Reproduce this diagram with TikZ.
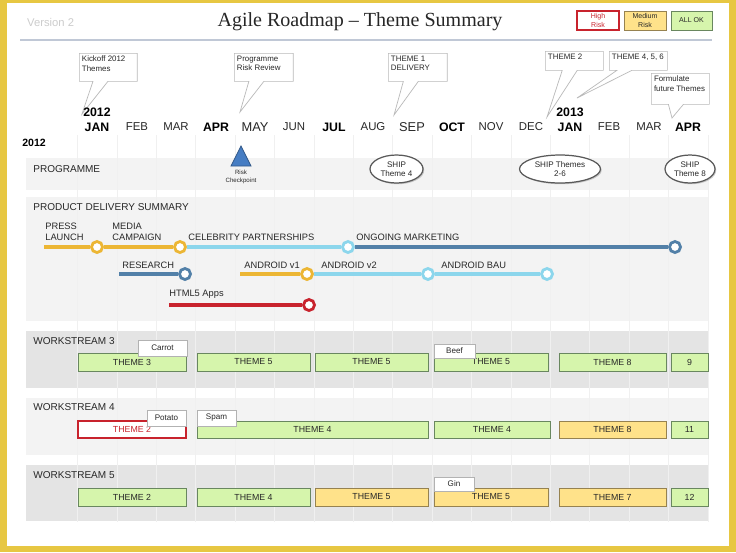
\documentclass[tikz,border=0pt]{standalone}
\usepackage{fontspec}
\setmainfont{Liberation Sans}
\newfontfamily\titlefont{Liberation Serif}
\usetikzlibrary{shapes.geometric, shapes.callouts, shadows, positioning}

\definecolor{frameyellow}{RGB}{231,199,66}
\definecolor{bandlight}{RGB}{243,243,243}
\definecolor{banddark}{RGB}{228,228,228}
\definecolor{okfill}{RGB}{214,245,172}
\definecolor{okdraw}{RGB}{105,135,95}
\definecolor{medfill}{RGB}{255,226,138}
\definecolor{meddraw}{RGB}{150,130,80}
\definecolor{riskred}{RGB}{200,35,45}
\definecolor{goldline}{RGB}{236,182,52}
\definecolor{skyline}{RGB}{140,214,236}
\definecolor{steelline}{RGB}{82,128,168}
\definecolor{chkblue}{RGB}{70,125,195}
\definecolor{textgrey}{RGB}{40,40,40}

\begin{document}
\begin{tikzpicture}[x=0.02cm, y=-0.02cm, text=textgrey]
        \tikzstyle{boxshadow} = [drop shadow={shadow xshift=0.7pt, shadow yshift=-0.7pt, opacity=0.4}]
        \tikzstyle{month} = [font=\fontsize{6.5}{7}\selectfont]
        \tikzstyle{bigmonth} = [font=\fontsize{7.3}{8}\selectfont]
        \tikzstyle{qmonth} = [font=\bfseries\fontsize{7}{8}\selectfont, text=black]
        \tikzstyle{bandlabel} = [anchor=west, inner sep=0pt, font=\fontsize{5.7}{6.5}\selectfont]
        \tikzstyle{linelabel} = [anchor=south west, align=left, inner sep=0pt, font=\fontsize{5.3}{6.2}\selectfont]
        \tikzstyle{note} = [rectangle callout, draw=gray!55, fill=white, anchor=north west, inner sep=0pt, callout pointer width=0.3cm]
        \tikzstyle{notetext} = [anchor=north west, align=left, inner sep=1.5pt, font=\fontsize{4.5}{5.4}\selectfont]
        \tikzstyle{legend} = [rectangle, minimum width=0.84cm, minimum height=0.38cm, inner sep=0pt, align=center, font=\fontsize{4}{4.6}\selectfont, boxshadow]
        \tikzstyle{okbox} = [rectangle, draw=okdraw, fill=okfill, minimum height=0.36cm, inner sep=0pt, font=\fontsize{5}{6}\selectfont, boxshadow]
        \tikzstyle{medbox} = [okbox, draw=meddraw, fill=medfill]
        \tikzstyle{riskbox} = [okbox, draw=riskred, fill=white, text=riskred, line width=0.8pt]
        \tikzstyle{tag} = [rectangle, draw=gray!60, fill=white, minimum height=0.3cm, inner sep=0pt, font=\fontsize{4.6}{5}\selectfont, boxshadow]
        \tikzstyle{ship} = [ellipse, draw=gray!70!black, line width=0.7pt, fill=white, align=center, inner sep=0pt, minimum height=0.56cm, font=\fontsize{4.6}{5.4}\selectfont, boxshadow]
        \tikzstyle{milestone} = [circle, minimum size=0.22cm, inner sep=0pt, line width=1.6pt, fill=white]
        \tikzstyle{track} = [line width=1.8pt]

        \useasboundingbox (0,0) rectangle (736,552);

        % frame, rule and bands
        \fill[frameyellow] (0,0) rectangle (736,552);
        \fill[white] (7,3) rectangle (729,546);
        \draw[line width=1.2pt, color={rgb,255:red,192;green,200;blue,214}] (20,40) -- (712,40);
        \fill[bandlight] (26,158) rectangle (709,190);
        \fill[bandlight] (26,197) rectangle (709,321);
        \fill[banddark] (26,331) rectangle (709,388);
        \fill[bandlight] (26,398) rectangle (709,455);
        \fill[banddark] (26,465) rectangle (709,521);
        \foreach \gx in {0,...,16}
            \draw[white!88!gray, line width=0.4pt] (77.5+39.4*\gx,135) -- (77.5+39.4*\gx,522);

        % header
        \node (ver) [anchor=west, text=gray!40, font=\fontsize{6.4}{7}\selectfont] at (21,22) {Version 2};
        \node (title) [font=\titlefont\fontsize{11.4}{13}\selectfont, text=black!85] at (360,22) {Agile Roadmap – Theme Summary};
        \node (hi) [legend, draw=riskred, line width=0.8pt, fill=white, text=riskred] at (598,20.5) {High\\Risk};
        \node (med) [legend, draw=meddraw, fill=medfill] at (645,20.5) {Medium\\Risk};
        \node (ok) [legend, draw=okdraw, fill=okfill, minimum width=0.82cm] at (691.5,20.5) {ALL OK};

        % callouts
        \coordinate (kickpt) at (82,114);
        \coordinate (riskpt) at (240,112);
        \coordinate (thm1pt) at (394,115);
        \coordinate (thm2pt) at (547,117);
        \coordinate (thm4pt) at (577,98);
        \coordinate (formpt) at (672,118);
        \node (kick) [note, minimum width=1.16cm, minimum height=0.56cm, callout absolute pointer={(kickpt)}] at (79,53) {};
        \node (riskrev) [note, minimum width=1.18cm, minimum height=0.56cm, callout absolute pointer={(riskpt)}] at (234,53) {};
        \node (thm1) [note, minimum width=1.18cm, minimum height=0.56cm, callout absolute pointer={(thm1pt)}] at (388,53) {};
        \node (thm2) [note, minimum width=1.16cm, minimum height=0.38cm, callout absolute pointer={(thm2pt)}] at (545,51) {};
        \node (thm4) [note, minimum width=1.16cm, minimum height=0.38cm, callout absolute pointer={(thm4pt)}] at (609,51) {};
        \node (form) [note, minimum width=1.16cm, minimum height=0.62cm, callout absolute pointer={(formpt)}] at (651,73) {};
        \node (kicktxt) [notetext] at (kick.north west) {Kickoff 2012\\Themes};
        \node (risktxt) [notetext] at (riskrev.north west) {Programme\\Risk Review};
        \node (thm1txt) [notetext] at (thm1.north west) {THEME 1\\DELIVERY};
        \node (thm2txt) [notetext] at (thm2.north west) {THEME 2};
        \node (thm4txt) [notetext] at (thm4.north west) {THEME 4, 5, 6};
        \node (formtxt) [notetext] at (form.north west) {Formulate\\future Themes};

        % months
        \node (y12) [qmonth] at (97,112) {2012};
        \node (y13) [qmonth] at (570,112) {2013};
        \node (jan) [qmonth] at (97,127) {JAN};
        \node (feb) [month] at (137,127) {FEB};
        \node (mar) [month] at (176,127) {MAR};
        \node (apr) [qmonth] at (216,127) {APR};
        \node (may) [bigmonth] at (255,127) {MAY};
        \node (jun) [month] at (294,127) {JUN};
        \node (jul) [qmonth] at (334,127) {JUL};
        \node (aug) [month] at (373,127) {AUG};
        \node (sep) [bigmonth] at (412,127) {SEP};
        \node (oct) [qmonth] at (452,127) {OCT};
        \node (nov) [month] at (491,127) {NOV};
        \node (dec) [month] at (531,127) {DEC};
        \node (jan2) [qmonth] at (570,127) {JAN};
        \node (feb2) [month] at (609,127) {FEB};
        \node (mar2) [month] at (649,127) {MAR};
        \node (apr2) [qmonth] at (688,127) {APR};
        \node (yr) [anchor=west, inner sep=0pt, font=\bfseries\fontsize{6}{7}\selectfont, text=black] at (22,143) {2012};

        % programme
        \node (prog) [bandlabel] at (33,169) {PROGRAMME};
        \filldraw[fill=chkblue, draw=chkblue!70!black, line width=0.5pt] (241,146) -- (251,166) -- (231,166) -- cycle;
        \node (chk) [align=center, inner sep=0pt, font=\fontsize{3.5}{4.6}\selectfont] at (241,176.5) {Risk\\Checkpoint};
        \node (ship4) [ship, minimum width=1.06cm] at (396.5,169) {SHIP\\Theme 4};
        \node (ship26) [ship, minimum width=1.62cm] at (560,169) {SHIP Themes\\2-6};
        \node (ship8) [ship, minimum width=1.0cm] at (690,169) {SHIP\\Theme 8};

        % product delivery summary
        \node (pds) [bandlabel] at (33,207) {PRODUCT DELIVERY SUMMARY};
        \coordinate (pd0) at (44,247);
        \node (pd1) [milestone, draw=goldline] at (97,247) {};
        \node (pd2) [milestone, draw=goldline] at (180,247) {};
        \node (pd3) [milestone, draw=skyline] at (348,247) {};
        \node (pd4) [milestone, draw=steelline] at (675,247) {};
        \draw[track, goldline] (pd0) -- (pd1);
        \draw[track, goldline] (pd1) -- (pd2);
        \draw[track, skyline] (pd2) -- (pd3);
        \draw[track, steelline] (pd3) -- (pd4);
        \node (press) [linelabel] at (45,241) {PRESS\\LAUNCH};
        \node (media) [linelabel] at (112,241) {MEDIA\\CAMPAIGN};
        \node (celeb) [linelabel] at (188,241) {CELEBRITY PARTNERSHIPS};
        \node (ongo) [linelabel] at (356,241) {ONGOING MARKETING};

        \coordinate (rs0) at (119,274);
        \node (rs1) [milestone, draw=steelline] at (185,274) {};
        \draw[track, steelline] (rs0) -- (rs1);
        \node (research) [linelabel] at (122,269) {RESEARCH};
        \coordinate (an0) at (240,274);
        \node (an1) [milestone, draw=goldline] at (307,274) {};
        \node (an2) [milestone, draw=skyline] at (428,274) {};
        \node (an3) [milestone, draw=skyline] at (547,274) {};
        \draw[track, goldline] (an0) -- (an1);
        \draw[track, skyline] (an1) -- (an2);
        \draw[track, skyline] (an2) -- (an3);
        \node (andv1) [linelabel] at (244,269) {ANDROID v1};
        \node (andv2) [linelabel] at (321,269) {ANDROID v2};
        \node (andbau) [linelabel] at (441,269) {ANDROID BAU};

        \coordinate (ht0) at (169,305);
        \node (ht1) [milestone, draw=riskred] at (309,305) {};
        \draw[track, riskred] (ht0) -- (ht1);
        \node (html) [linelabel] at (169,299) {HTML5 Apps};

        % workstream 3
        \node (ws3) [bandlabel] at (33,341) {WORKSTREAM 3};
        \node (w3a) [okbox, minimum width=2.16cm] at (132,362) {THEME 3};
        \node (w3b) [okbox, minimum width=2.26cm] at (253.5,362) {THEME 5};
        \node (w3c) [okbox, minimum width=2.26cm] at (371.5,362) {THEME 5};
        \node (w3d) [okbox, minimum width=2.28cm] at (491,362) {THEME 5};
        \node (w3e) [okbox, minimum width=2.14cm] at (612.5,362) {THEME 8};
        \node (w3f) [okbox, minimum width=0.74cm] at (689.5,362) {9};
        \node (carrot) [tag, minimum width=0.98cm, minimum height=0.32cm] at (162.5,348) {Carrot};
        \node (beef) [tag, minimum width=0.82cm, minimum height=0.28cm] at (454.5,351) {Beef};

        % workstream 4
        \node (ws4) [bandlabel] at (33,407) {WORKSTREAM 4};
        \node (w4a) [riskbox, minimum width=2.16cm, minimum height=0.34cm] at (132,429.5) {THEME 2};
        \node (w4b) [okbox, minimum width=4.62cm, minimum height=0.34cm] at (312.5,429.5) {THEME 4};
        \node (w4c) [okbox, minimum width=2.32cm, minimum height=0.34cm] at (492,429.5) {THEME 4};
        \node (w4d) [medbox, minimum width=2.14cm, minimum height=0.34cm] at (612.5,429.5) {THEME 8};
        \node (w4e) [okbox, minimum width=0.74cm, minimum height=0.34cm] at (689.5,429.5) {11};
        \node (potato) [tag, minimum width=0.78cm, minimum height=0.32cm] at (166.5,418) {Potato};
        \node (spam) [tag, minimum width=0.78cm, minimum height=0.32cm] at (216.5,418) {Spam};

        % workstream 5
        \node (ws5) [bandlabel] at (33,475) {WORKSTREAM 5};
        \node (w5a) [okbox, minimum width=2.16cm] at (132,497) {THEME 2};
        \node (w5b) [okbox, minimum width=2.26cm] at (253.5,497) {THEME 4};
        \node (w5c) [medbox, minimum width=2.26cm] at (371.5,497) {THEME 5};
        \node (w5d) [medbox, minimum width=2.28cm] at (491,497) {THEME 5};
        \node (w5e) [medbox, minimum width=2.14cm] at (612.5,497) {THEME 7};
        \node (w5f) [okbox, minimum width=0.74cm] at (689.5,497) {12};
        \node (gin) [tag, minimum width=0.8cm, minimum height=0.28cm] at (454,484) {Gin};
\end{tikzpicture}
\end{document}
